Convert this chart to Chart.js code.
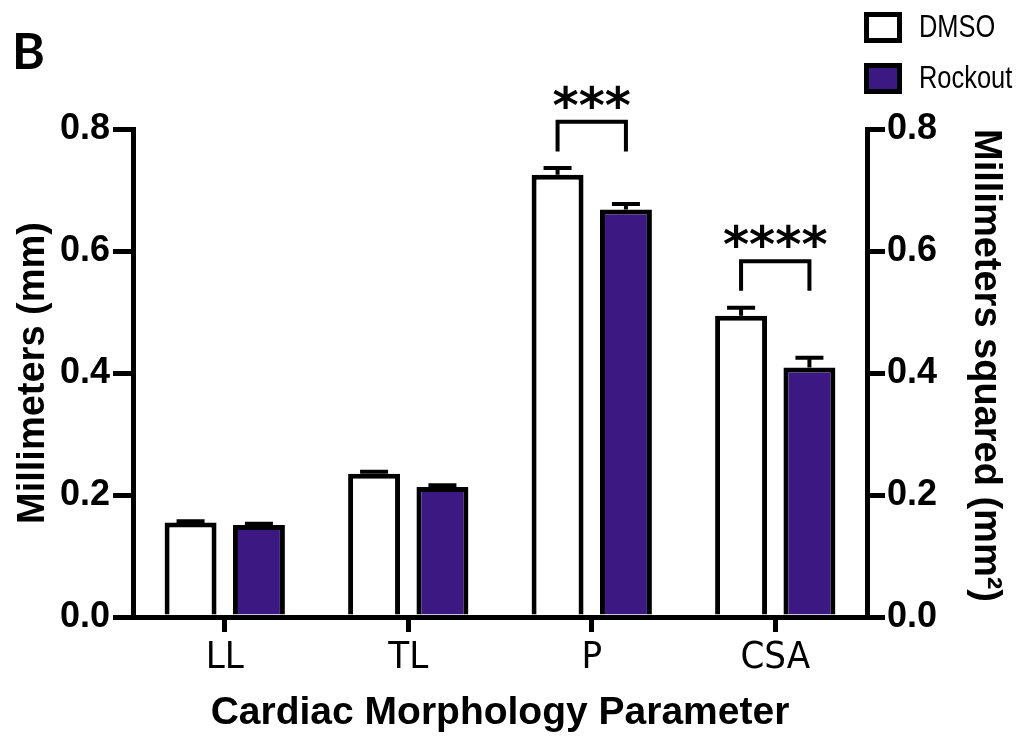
<!DOCTYPE html>
<html>
<head>
<meta charset="utf-8">
<script src="https://cdn.jsdelivr.net/npm/chart.js@4.4.1/dist/chart.umd.min.js"></script>
<style>
  html, body { margin: 0; padding: 0; background: #ffffff; }
  #wrap { width: 1021px; height: 747px; position: relative; }
</style>
</head>
<body>
<div id="wrap"><canvas id="c"></canvas></div>
<script>
// ---- data ----
const categories = ['LL', 'TL', 'P', 'CSA'];
const seriesNames = ['DMSO', 'Rockout'];
const dmsoMeans = [0.155, 0.235, 0.725, 0.494];
const rockoutMeans = [0.151, 0.213, 0.668, 0.409];
const dmsoSEM = [0.002, 0.003, 0.011, 0.013];
const rockoutSEM = [0.002, 0.003, 0.009, 0.016];
const yMin = 0.0;
const yMax = 0.8;
const yStep = 0.2;
const leftAxisTitle = 'Millimeters (mm)';
const rightAxisTitle = 'Millimeters squared (mm\u00B2)';
const xAxisTitle = 'Cardiac Morphology Parameter';
const panelLabel = 'B';
const sigCategories = ['P', 'CSA'];
const sigLabels = ['***', '****'];
const sigTop = [0.812, 0.583];
const sigLegEnd = [0.763, 0.535];

// ---- styles ----
const PURPLE = '#3c1982';
const SANS = "'Liberation Sans', Arial, Helvetica, sans-serif";
const CONDENSED = "'DejaVu Sans Condensed', 'Liberation Sans', sans-serif";

const overlayPlugin = {
  id: 'overlay',
  afterDatasetsDraw(chart) {
    const ctx = chart.ctx;
    const y = chart.scales.y;
    const sems = [dmsoSEM, rockoutSEM];
    ctx.save();
    ctx.strokeStyle = '#000';
    ctx.lineWidth = 4;
    ctx.lineCap = 'butt';
    // error bars (upper)
    chart.data.datasets.forEach((ds, di) => {
      const meta = chart.getDatasetMeta(di);
      meta.data.forEach((bar, i) => {
        const v = ds.data[i];
        const top = y.getPixelForValue(v + sems[di][i]);
        const base = y.getPixelForValue(v);
        ctx.beginPath();
        ctx.moveTo(bar.x, base);
        ctx.lineTo(bar.x, top);
        ctx.moveTo(bar.x - 14, top);
        ctx.lineTo(bar.x + 14, top);
        ctx.stroke();
      });
    });
    // significance brackets
    sigCategories.forEach((cat, k) => {
      const idx = categories.indexOf(cat);
      const x1 = chart.getDatasetMeta(0).data[idx].x;
      const x2 = chart.getDatasetMeta(1).data[idx].x;
      const yt = y.getPixelForValue(sigTop[k]);
      const yb = y.getPixelForValue(sigLegEnd[k]);
      ctx.beginPath();
      ctx.moveTo(x1, yb);
      ctx.lineTo(x1, yt);
      ctx.lineTo(x2, yt);
      ctx.lineTo(x2, yb);
      ctx.lineJoin = 'miter';
      ctx.stroke();
      ctx.fillStyle = '#000';
      ctx.font = "bold 50px 'DejaVu Sans', sans-serif";
      ctx.textAlign = 'center';
      ctx.textBaseline = 'alphabetic';
      ctx.fillText(sigLabels[k], (x1 + x2) / 2, yt + 1);
    });
    ctx.restore();
  },
  afterDraw(chart) {
    const ctx = chart.ctx;
    ctx.save();
    // panel label
    ctx.fillStyle = '#000';
    ctx.font = "bold 50px Lato, 'Liberation Sans', sans-serif";
    ctx.textAlign = 'left';
    ctx.textBaseline = 'alphabetic';
    ctx.fillText(panelLabel, 12, 69);
    // legend
    const boxes = [{x: 864, y: 12}, {x: 864, y: 63}];
    chart.data.datasets.forEach((ds, i) => {
      const b = boxes[i];
      ctx.fillStyle = '#000';
      ctx.fillRect(b.x, b.y, 38, 31);
      ctx.fillStyle = ds.backgroundColor;
      ctx.fillRect(b.x + 5, b.y + 5, 28, 21);
      ctx.save();
      ctx.translate(919, b.y + 16);
      ctx.scale(0.82, 1);
      ctx.fillStyle = '#000';
      ctx.font = "31px " + SANS;
      ctx.textAlign = 'left';
      ctx.textBaseline = 'middle';
      ctx.fillText(ds.label, 0, 0);
      ctx.restore();
    });
    ctx.restore();
  }
};

const chart = new Chart(document.getElementById('c'), {
  type: 'bar',
  data: {
    labels: categories,
    datasets: [
      { label: seriesNames[0], data: dmsoMeans, backgroundColor: '#ffffff', borderColor: '#000', borderWidth: 5, borderSkipped: 'start', yAxisID: 'y' },
      { label: seriesNames[1], data: rockoutMeans, backgroundColor: PURPLE, borderColor: '#000', borderWidth: 5, borderSkipped: 'start', yAxisID: 'y' }
    ]
  },
  options: {
    responsive: true,
    maintainAspectRatio: false,
    animation: false,
    categoryPercentage: 0.745,
    barPercentage: 0.76,
    layout: { padding: { top: 129, left: 0, right: 0, bottom: 0 } },
    plugins: {
      legend: { display: false },
      tooltip: { enabled: false }
    },
    scales: {
      x: {
        offset: true,
        grid: { offset: false, drawOnChartArea: false, drawTicks: true, tickLength: 15, tickWidth: 5, tickColor: '#000', lineWidth: 5, color: '#000' },
        border: { display: true, width: 5, color: '#000' },
        ticks: { color: '#000', font: { family: CONDENSED, size: 38 }, padding: 3 },
        title: { display: true, text: xAxisTitle, color: '#000', font: { family: SANS, size: 39, weight: 'bold' }, padding: { top: 0, bottom: 10 } },
        afterFit(s) { s.height = 130; }
      },
      y: {
        position: 'left',
        min: yMin, max: yMax,
        grid: { drawOnChartArea: false, drawTicks: true, tickLength: 20, tickWidth: 5, tickColor: '#000', lineWidth: 5, color: '#000' },
        border: { display: true, width: 5, color: '#000' },
        ticks: { stepSize: yStep, color: '#000', padding: 3, font: { family: SANS, size: 36, weight: 'bold' }, callback: v => Number(v).toFixed(1) },
        title: { display: true, text: leftAxisTitle, color: '#000', font: { family: SANS, size: 38, weight: 'bold' }, padding: { top: 11, bottom: 0 } },
        afterFit(s) { s.width = 133; }
      },
      y2: {
        position: 'right',
        min: yMin, max: yMax,
        grid: { drawOnChartArea: false, drawTicks: true, tickLength: 18, tickWidth: 5, tickColor: '#000', lineWidth: 5, color: '#000' },
        border: { display: true, width: 5, color: '#000' },
        ticks: { stepSize: yStep, color: '#000', padding: 2, font: { family: SANS, size: 36, weight: 'bold' }, callback: v => Number(v).toFixed(1) },
        title: { display: true, text: rightAxisTitle, align: 'end', color: '#000', font: { family: SANS, size: 38, weight: 'bold' }, padding: { top: 13, bottom: 0 } },
        afterFit(s) { s.width = 154; }
      }
    }
  },
  plugins: [overlayPlugin]
});
</script>
</body>
</html>
